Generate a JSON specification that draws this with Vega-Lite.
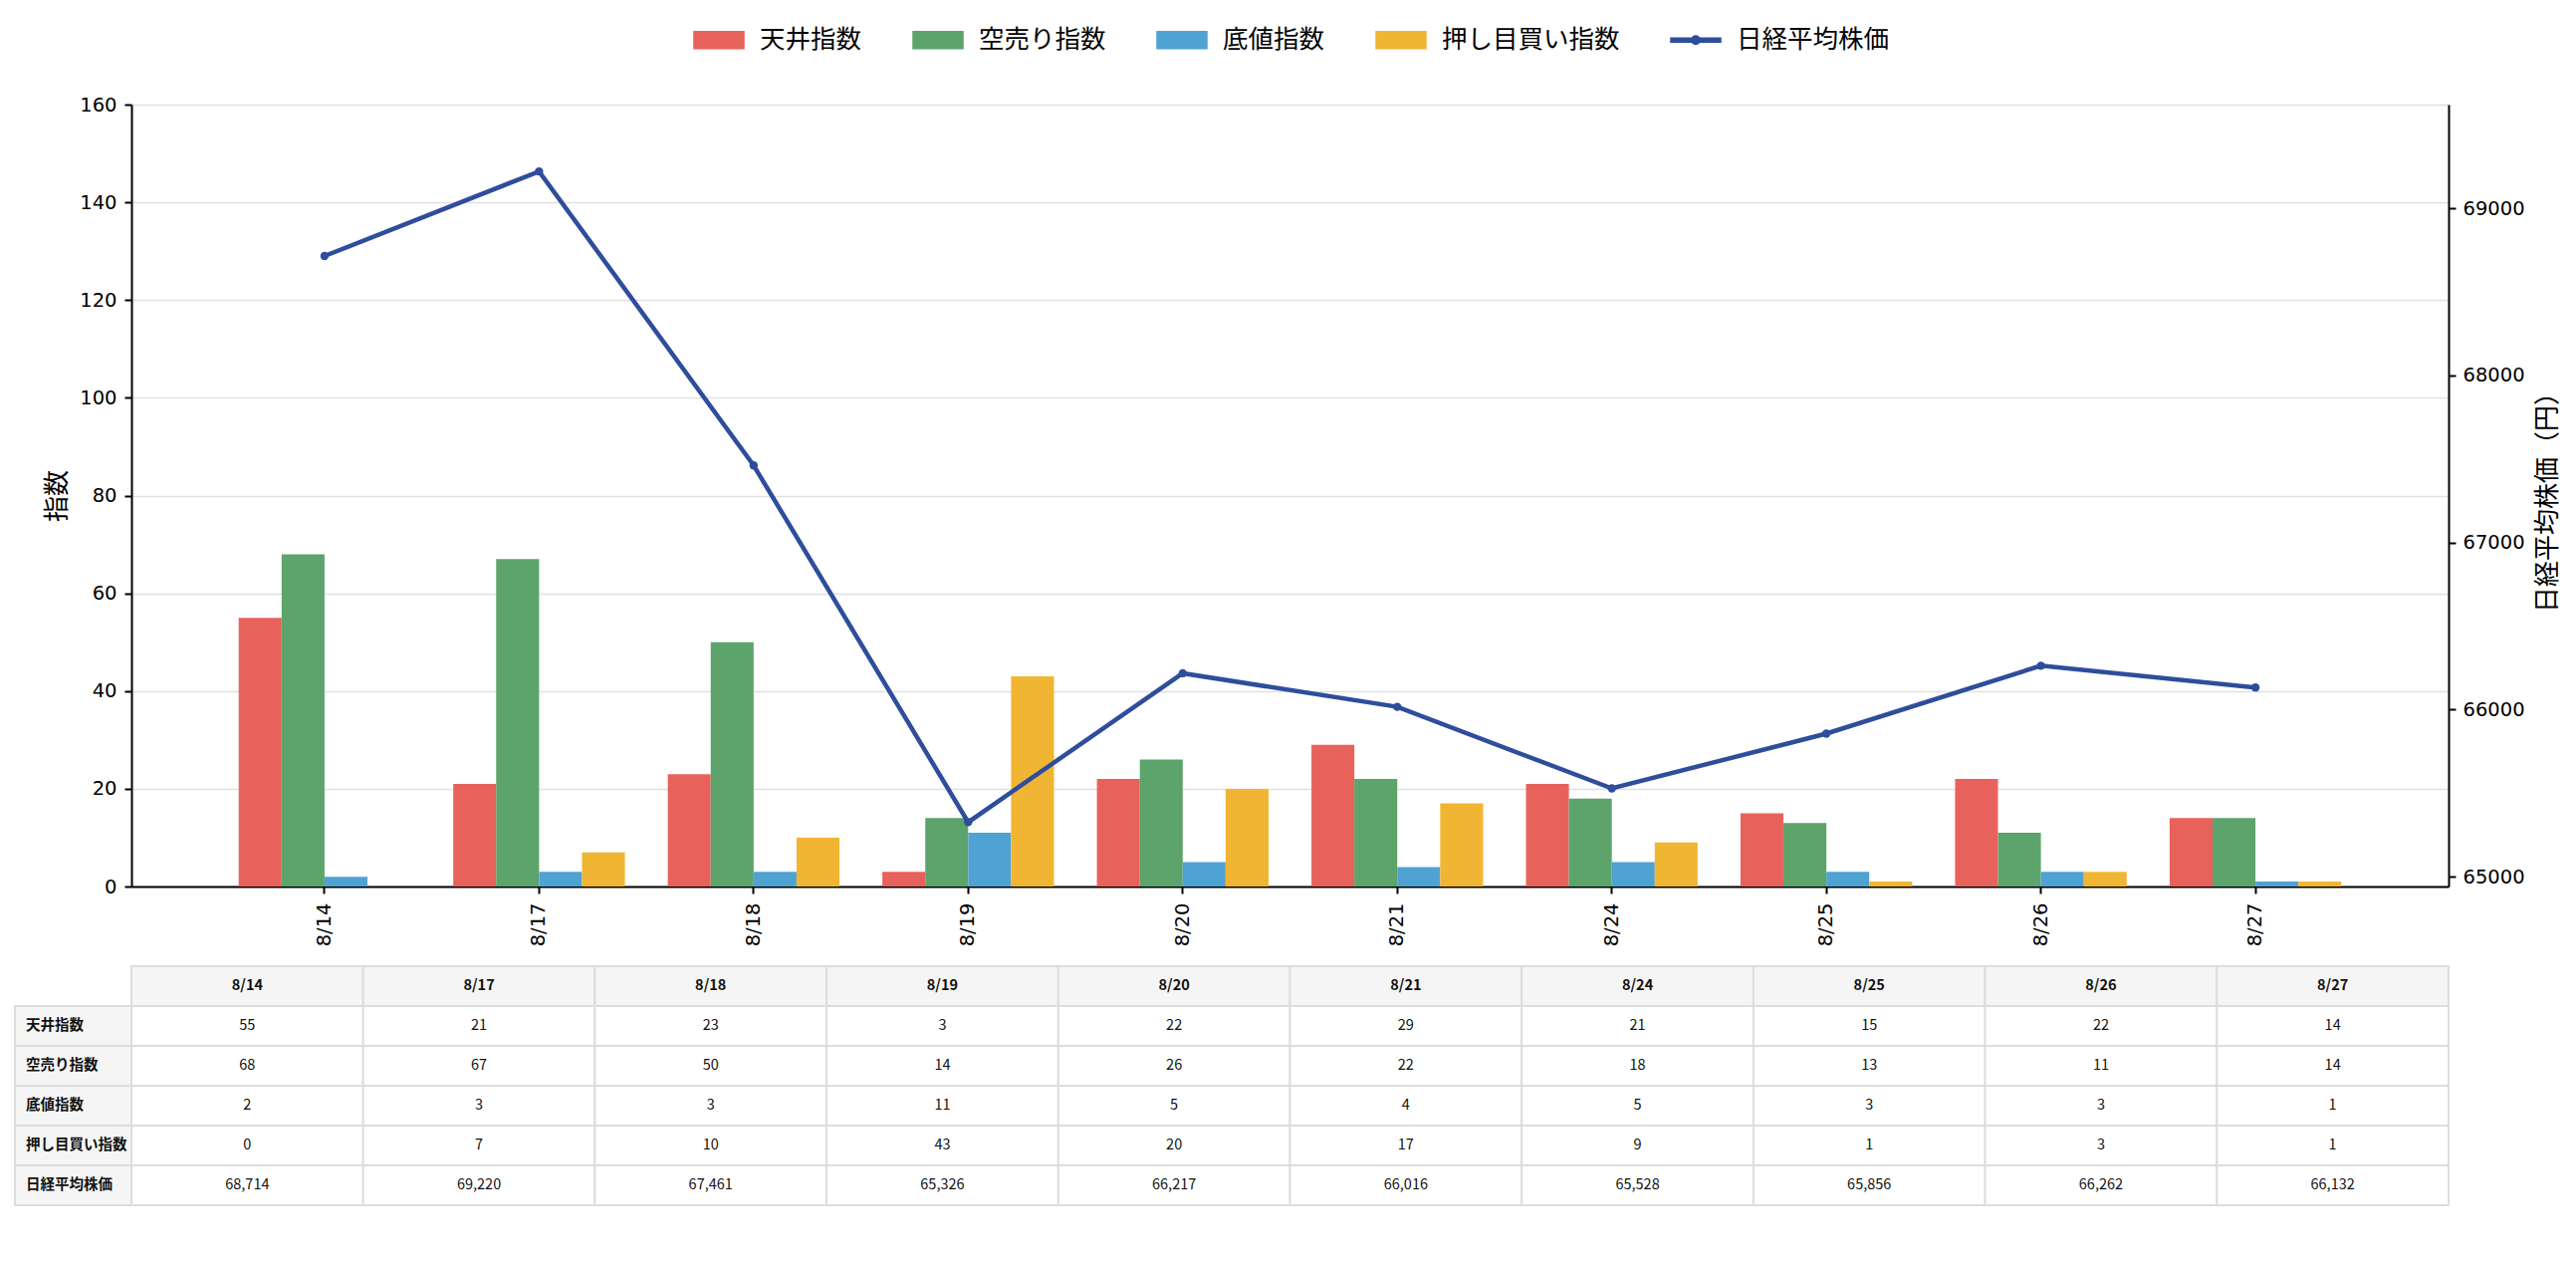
{
  "$schema": "https://vega.github.io/schema/vega-lite/v6.json",
  "background": "white",
  "padding": {"left": 14, "top": 14, "right": 10, "bottom": 10},
  "bounds": "flush",
  "columns": 2,
  "spacing": {"row": 80, "column": 0},
  "datasets": {
    "cells": [
      {"date": "8/14", "row": "天井指数", "value": 55},
      {"date": "8/17", "row": "天井指数", "value": 21},
      {"date": "8/18", "row": "天井指数", "value": 23},
      {"date": "8/19", "row": "天井指数", "value": 3},
      {"date": "8/20", "row": "天井指数", "value": 22},
      {"date": "8/21", "row": "天井指数", "value": 29},
      {"date": "8/24", "row": "天井指数", "value": 21},
      {"date": "8/25", "row": "天井指数", "value": 15},
      {"date": "8/26", "row": "天井指数", "value": 22},
      {"date": "8/27", "row": "天井指数", "value": 14},
      {"date": "8/14", "row": "空売り指数", "value": 68},
      {"date": "8/17", "row": "空売り指数", "value": 67},
      {"date": "8/18", "row": "空売り指数", "value": 50},
      {"date": "8/19", "row": "空売り指数", "value": 14},
      {"date": "8/20", "row": "空売り指数", "value": 26},
      {"date": "8/21", "row": "空売り指数", "value": 22},
      {"date": "8/24", "row": "空売り指数", "value": 18},
      {"date": "8/25", "row": "空売り指数", "value": 13},
      {"date": "8/26", "row": "空売り指数", "value": 11},
      {"date": "8/27", "row": "空売り指数", "value": 14},
      {"date": "8/14", "row": "底値指数", "value": 2},
      {"date": "8/17", "row": "底値指数", "value": 3},
      {"date": "8/18", "row": "底値指数", "value": 3},
      {"date": "8/19", "row": "底値指数", "value": 11},
      {"date": "8/20", "row": "底値指数", "value": 5},
      {"date": "8/21", "row": "底値指数", "value": 4},
      {"date": "8/24", "row": "底値指数", "value": 5},
      {"date": "8/25", "row": "底値指数", "value": 3},
      {"date": "8/26", "row": "底値指数", "value": 3},
      {"date": "8/27", "row": "底値指数", "value": 1},
      {"date": "8/14", "row": "押し目買い指数", "value": 0},
      {"date": "8/17", "row": "押し目買い指数", "value": 7},
      {"date": "8/18", "row": "押し目買い指数", "value": 10},
      {"date": "8/19", "row": "押し目買い指数", "value": 43},
      {"date": "8/20", "row": "押し目買い指数", "value": 20},
      {"date": "8/21", "row": "押し目買い指数", "value": 17},
      {"date": "8/24", "row": "押し目買い指数", "value": 9},
      {"date": "8/25", "row": "押し目買い指数", "value": 1},
      {"date": "8/26", "row": "押し目買い指数", "value": 3},
      {"date": "8/27", "row": "押し目買い指数", "value": 1},
      {"date": "8/14", "row": "日経平均株価", "value": 68714},
      {"date": "8/17", "row": "日経平均株価", "value": 69220},
      {"date": "8/18", "row": "日経平均株価", "value": 67461},
      {"date": "8/19", "row": "日経平均株価", "value": 65326},
      {"date": "8/20", "row": "日経平均株価", "value": 66217},
      {"date": "8/21", "row": "日経平均株価", "value": 66016},
      {"date": "8/24", "row": "日経平均株価", "value": 65528},
      {"date": "8/25", "row": "日経平均株価", "value": 65856},
      {"date": "8/26", "row": "日経平均株価", "value": 66262},
      {"date": "8/27", "row": "日経平均株価", "value": 66132}
    ]
  },
  "concat": [
    {
      "width": 117,
      "height": 785,
      "data": {"values": []},
      "mark": "text",
      "encoding": {}
    },
    {
      "width": 2327,
      "height": 785,
      "data": {"name": "cells"},
      "layer": [
        {
          "transform": [{"filter": "datum.row !== '日経平均株価'"}],
          "mark": {"type": "bar"},
          "encoding": {
            "x": {
              "field": "date",
              "type": "nominal",
              "sort": null,
              "scale": {"paddingInner": 0.2, "paddingOuter": 0.5},
              "axis": {"title": null, "labelAngle": -90, "labelPadding": 9, "grid": false}
            },
            "xOffset": {
              "field": "row",
              "type": "nominal",
              "scale": {"domain": ["天井指数", "空売り指数", "底値指数", "押し目買い指数"]}
            },
            "y": {
              "field": "value",
              "type": "quantitative",
              "scale": {"domain": [0, 160], "nice": false},
              "axis": {
                "title": "指数",
                "values": [0, 20, 40, 60, 80, 100, 120, 140, 160],
                "grid": true,
                "labelPadding": 8,
                "titlePadding": 9
              }
            },
            "color": {
              "field": "row",
              "type": "nominal",
              "scale": {
                "domain": ["天井指数", "空売り指数", "底値指数", "押し目買い指数", "日経平均株価"],
                "range": ["#e8625c", "#5ca46b", "#4fa3d2", "#f1b534", "#2e4d9c"]
              },
              "legend": {
                "orient": "none",
                "legendX": 681,
                "legendY": -91,
                "direction": "horizontal",
                "title": null,
                "symbolSize": 2500,
                "labelFont": "Noto Sans CJK JP",
                "labelFontSize": 25.5,
                "labelColor": "black",
                "labelOffset": 15,
                "labelLimit": 400,
                "columnPadding": 48,
                "encode": {
                  "symbols": {
                    "update": {
                      "shape": {"signal": "datum.value === '日経平均株価' ? 'M-1,-0.08H1V0.08H-1Z M-0.17,0A0.17,0.17 0 1 1 0.17,0A0.17,0.17 0 1 1 -0.17,0Z' : 'M-1,-0.34H1V0.34H-1Z'"},
                      "fill": {"signal": "scale('color', datum.value)"},
                      "stroke": {"value": "transparent"},
                      "opacity": {"value": 1}
                    }
                  }
                }
              }
            }
          }
        },
        {
          "transform": [{"filter": "datum.row === '日経平均株価'"}],
          "mark": {"type": "line", "strokeWidth": 4.5, "point": {"filled": true, "size": 70}},
          "encoding": {
            "x": {"field": "date", "type": "nominal", "sort": null},
            "y": {
              "field": "value",
              "type": "quantitative",
              "scale": {"domain": [64941, 69620], "nice": false, "zero": false},
              "axis": {
                "orient": "right",
                "title": "日経平均株価（円）",
                "titleAngle": -90,
                "titleBaseline": "top",
                "values": [65000, 66000, 67000, 68000, 69000],
                "format": "d",
                "grid": false,
                "labelPadding": 7,
                "titlePadding": 10
              }
            },
            "color": {"field": "row", "type": "nominal"}
          }
        }
      ],
      "resolve": {"scale": {"y": "independent"}}
    },
    {
      "width": 117,
      "height": 240,
      "data": {"name": "cells"},
      "transform": [{"filter": "datum.date === '8/14'"}],
      "encoding": {
        "y": {
          "field": "row",
          "type": "nominal",
          "axis": null,
          "scale": {
            "domain": ["日付", "天井指数", "空売り指数", "底値指数", "押し目買い指数", "日経平均株価"],
            "paddingInner": 0,
            "paddingOuter": 0
          }
        }
      },
      "layer": [
        {
          "mark": {"type": "rect", "fill": "#f5f5f5", "stroke": "#dddddd", "strokeWidth": 2},
          "encoding": {"x": {"value": 0}, "x2": {"value": "width"}}
        },
        {
          "mark": {"type": "text", "align": "left", "dx": 11, "fontSize": 14.5, "fontWeight": "bold", "color": "#111111"},
          "encoding": {"x": {"value": 0}, "text": {"field": "row"}}
        }
      ]
    },
    {
      "width": 2327,
      "height": 240,
      "data": {"name": "cells"},
      "encoding": {
        "x": {
          "field": "date",
          "type": "nominal",
          "sort": null,
          "axis": null,
          "scale": {"paddingInner": 0, "paddingOuter": 0}
        },
        "y": {
          "field": "row",
          "type": "nominal",
          "axis": null,
          "scale": {
            "domain": ["日付", "天井指数", "空売り指数", "底値指数", "押し目買い指数", "日経平均株価"],
            "paddingInner": 0,
            "paddingOuter": 0
          }
        }
      },
      "layer": [
        {
          "mark": {"type": "rect", "fill": "white", "stroke": "#dddddd", "strokeWidth": 2}
        },
        {
          "mark": {"type": "text", "fontSize": 14.5, "color": "#111111"},
          "encoding": {"text": {"field": "value", "type": "quantitative", "format": ","}}
        },
        {
          "transform": [{"filter": "datum.row === '天井指数'"}],
          "mark": {"type": "rect", "fill": "#f5f5f5", "stroke": "#dddddd", "strokeWidth": 2},
          "encoding": {"y": {"datum": "日付", "type": "nominal"}}
        },
        {
          "transform": [{"filter": "datum.row === '天井指数'"}],
          "mark": {"type": "text", "fontSize": 14.5, "fontWeight": "bold", "color": "#111111"},
          "encoding": {"y": {"datum": "日付", "type": "nominal"}, "text": {"field": "date"}}
        }
      ]
    }
  ],
  "config": {
    "view": {"stroke": null},
    "font": "Noto Sans CJK JP",
    "axis": {
      "domainColor": "black",
      "domainWidth": 2,
      "tickColor": "black",
      "tickWidth": 2,
      "tickSize": 7,
      "labelFont": "DejaVu Sans",
      "labelFontSize": 19.5,
      "labelColor": "black",
      "titleFont": "Noto Sans CJK JP",
      "titleFontSize": 26,
      "titleFontWeight": "normal",
      "titleColor": "black",
      "gridColor": "#e0e0e0",
      "gridWidth": 1.5
    }
  }
}
